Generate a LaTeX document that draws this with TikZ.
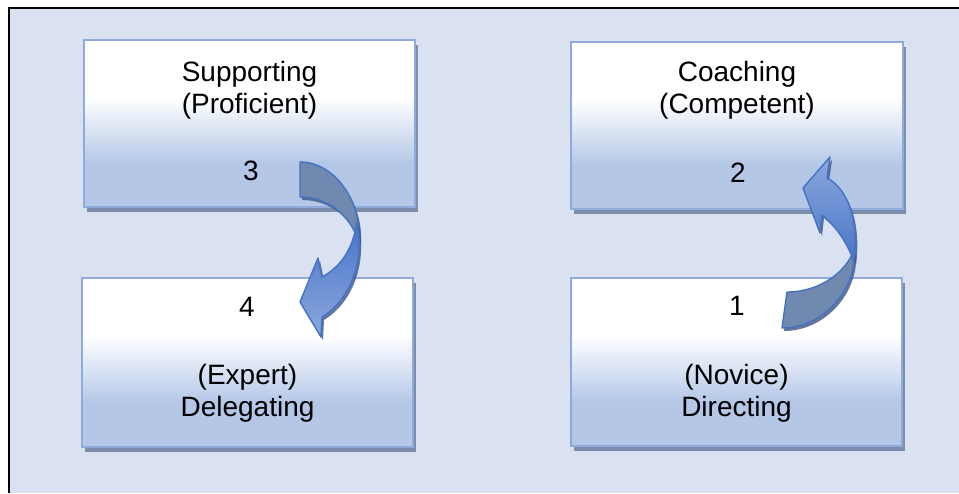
\documentclass[tikz,border=0pt]{standalone}
\usepackage{fontspec}
\setmainfont{Liberation Sans}
\usetikzlibrary{shadows}

\definecolor{backblue}{RGB}{218,226,242}
\definecolor{boxblue}{RGB}{180,199,231}
\definecolor{boxline}{RGB}{143,170,220}
\definecolor{boxshadow}{RGB}{124,140,170}
\definecolor{arrowline}{RGB}{68,114,196}
\definecolor{arrowback}{RGB}{112,137,174}
\definecolor{arrowlight}{RGB}{140,168,222}
\definecolor{arrowdark}{RGB}{72,116,198}
\definecolor{arrowshadow}{RGB}{62,84,128}

\pgfdeclareverticalshading{boxfade}{100bp}{color(0bp)=(boxblue); color(38bp)=(boxblue); color(58bp)=(white); color(100bp)=(white)}

\begin{document}
\begin{tikzpicture}[x=1pt, y=-1pt,
  stage/.style={draw=boxline, line width=1.5pt, shade, shading=boxfade,
    minimum width=331pt, minimum height=167pt, inner sep=0pt,
    general shadow={shadow xshift=3pt, shadow yshift=-5pt, fill=boxshadow}},
  word/.style={font=\fontsize{28}{32}\selectfont, anchor=base, inner sep=0pt},
  twist/.style={draw=arrowline, line width=1.4pt, line join=round,
    general shadow={shadow xshift=2pt, shadow yshift=-3pt, fill=arrowshadow, opacity=0.8}}]
\useasboundingbox (0,0) rectangle (959,493);
\fill[backblue] (9,8) rectangle (959,493);
\draw[line width=2pt] (9,493) -- (9,8) -- (959,8);

\node[stage] (supporting) at (249.5,123.5) {};
\node[stage, minimum width=332pt] (coaching) at (737,125.5) {};
\node[stage, minimum height=169pt] (delegating) at (247.5,362.5) {};
\node[stage, minimum height=168pt] (directing) at (736.5,362) {};

\node[word] (suppA) at (249.5,81.5) {Supporting};
\node[word] (suppB) at (249.5,113) {(Proficient)};
\node[word] (suppN) at (251,180) {3};

\node[word] (coachA) at (737,81.5) {Coaching};
\node[word] (coachB) at (737,113) {(Competent)};
\node[word] (coachN) at (738,182) {2};

\node[word] (delegN) at (247,316) {4};
\node[word] (delegA) at (247.5,384) {(Expert)};
\node[word] (delegB) at (247.5,416) {Delegating};

\node[word] (directN) at (737,315) {1};
\node[word] (directA) at (736.5,384) {(Novice)};
\node[word] (directB) at (736.5,416) {Directing};

% 3 -> 4
\path[twist, fill=arrowback] (300,162) .. controls (334,162) and (362,200) .. (359,242)
  .. controls (350,215) and (328,197) .. (300,197) -- cycle;
\path[twist, top color=arrowdark, bottom color=arrowlight] (357,222)
  .. controls (365,262) and (350,300) .. (322,317) -- (321,337) -- (300,302) -- (318,258)
  -- (322,277) .. controls (342,266) and (353,248) .. (357,222) -- cycle;

% 1 -> 2
\path[twist, fill=arrowback] (787,292) .. controls (820,292) and (846,272) .. (854,250)
  .. controls (857,290) and (823,328) .. (782,328) -- cycle;
\path[twist, top color=arrowlight, bottom color=arrowdark] (854,262)
  .. controls (859,225) and (850,190) .. (827,178) -- (830,157) -- (803,188) -- (820,233)
  -- (822,215) .. controls (838,228) and (848,245) .. (854,262) -- cycle;
\end{tikzpicture}
\end{document}
